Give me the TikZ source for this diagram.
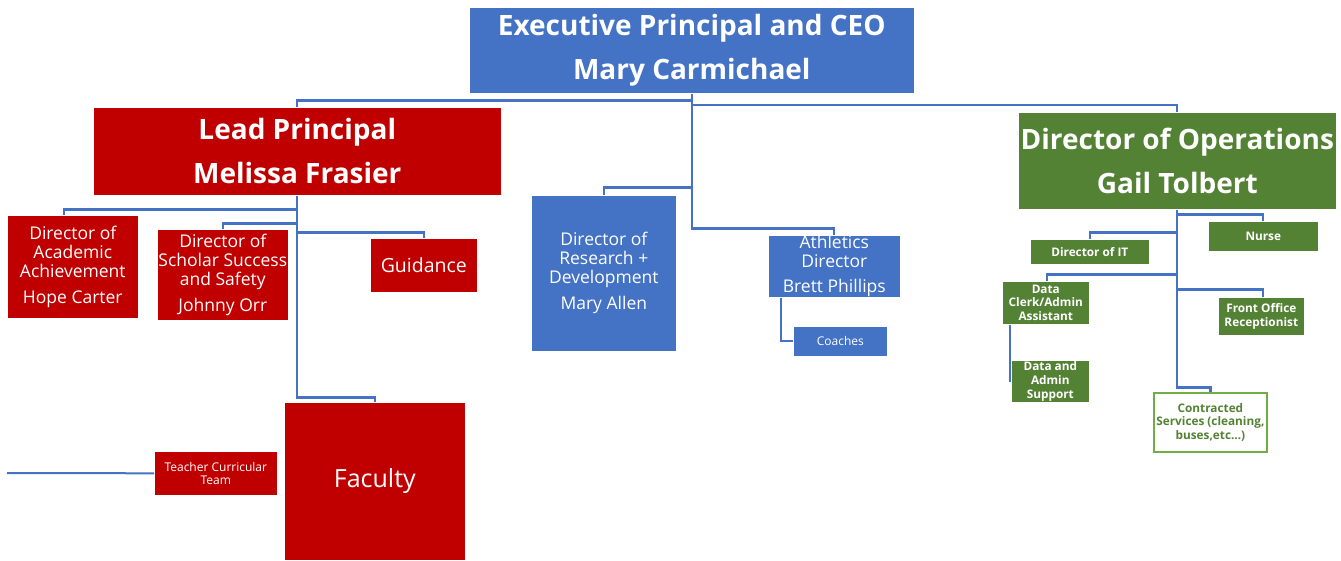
\documentclass[tikz,border=0pt]{standalone}
\usepackage{fontspec}
\setmainfont{Open Sans}
\definecolor{cblue}{HTML}{4472C4}
\definecolor{cred}{HTML}{C00000}
\definecolor{cgreen}{HTML}{548235}
\definecolor{lgreen}{HTML}{70AD47}
\begin{document}
\begin{tikzpicture}[x=1pt,y=-1pt,
  boxbase/.style={inner sep=0pt, anchor=north west, align=center, text=white, draw=white, line width=0.6pt},
  bluebox/.style={boxbase, fill=cblue},
  redbox/.style={boxbase, fill=cred},
  greenbox/.style={boxbase, fill=cgreen},
  bigfont/.style={font=\fontsize{28}{44}\selectfont\bfseries},
  midfont/.style={font=\fontsize{17.5}{19}\selectfont},
  smallfont/.style={font=\fontsize{11.8}{13.8}\selectfont\bfseries},
  conn/.style={draw=cblue, line width=2.3pt}]
\fill[white] (0,0) rectangle (1341,560);
\useasboundingbox (0,0) rectangle (1341,560);
% top level
\node[bluebox, bigfont, minimum width=445, minimum height=86] (ceo) at (469,7) {Executive Principal and CEO\\Mary Carmichael};
\node[redbox, bigfont, minimum width=408, minimum height=88] (lp) at (93,107) {Lead Principal\\Melissa Frasier};
\node[greenbox, bigfont, minimum width=318, minimum height=97] (ops) at (1018,112) {Director of Operations\\Gail Tolbert};
% lead principal branch
\node[redbox, midfont, minimum width=131, minimum height=103] (acad) at (7,215) {Director of\\Academic\\Achievement\\[7pt]Hope Carter};
\node[redbox, midfont, minimum width=131, minimum height=91] (schol) at (157,229) {Director of\\Scholar Success\\and Safety\\[7pt]Johnny Orr};
\node[redbox, font=\fontsize{19.5}{22}\selectfont, minimum width=107, minimum height=54] (guid) at (370,238) {Guidance};
\node[redbox, font=\fontsize{25}{28}\selectfont, minimum width=181, minimum height=158] (fac) at (284,402) {Faculty};
\node[redbox, font=\fontsize{12}{13.5}\selectfont, minimum width=123, minimum height=44] (tct) at (154,451) {Teacher Curricular\\Team};
% ceo middle branch
\node[bluebox, midfont, minimum width=145, minimum height=156] (res) at (531,195) {Director of\\Research +\\Development\\[7pt]Mary Allen};
\node[bluebox, midfont, minimum width=132, minimum height=62] (ath) at (768,235) {Athletics\\Director\\[6pt]Brett Phillips};
\node[bluebox, font=\fontsize{12}{14}\selectfont, minimum width=94, minimum height=30] (coach) at (793,326) {Coaches};
% operations branch
\node[greenbox, smallfont, minimum width=119, minimum height=25] (it) at (1030,239) {Director of IT};
\node[greenbox, smallfont, minimum width=110, minimum height=30] (nurse) at (1208,221) {Nurse};
\node[greenbox, smallfont, minimum width=87, minimum height=43] (dc) at (1002,281) {Data\\Clerk/Admin\\Assistant};
\node[greenbox, smallfont, minimum width=86, minimum height=38] (fo) at (1218,297) {Front Office\\Receptionist};
\node[greenbox, smallfont, minimum width=78, minimum height=42] (das) at (1011,360) {Data and\\Admin\\Support};
\node[boxbase, smallfont, fill=white, draw=lgreen, line width=1.8pt, text=cgreen, minimum width=113, minimum height=59] (cs) at (1153,392) {Contracted\\Services (cleaning,\\buses,etc...)};
% connectors
\draw[conn] (ceo.south) -- ++(0,7) -| (lp.north);
\draw[conn, line width=1.8pt] (ceo.south) ++(0,11) -| (ops.north);
\draw[conn] (ceo.south) ++(0,94) -| (res.north);
\draw[conn] (ceo.south) -- ++(0,135) -| (ath.north);
\draw[conn] ([xshift=13]ath.south west) |- (coach.west);
\draw[conn] (lp.south) ++(0,14) -| ([xshift=-9]acad.north);
\draw[conn] (lp.south) ++(0,28) -| (schol.north);
\draw[conn] (lp.south) ++(0,37) -| (guid.north);
\draw[conn] (lp.south) -- ++(0,202) -| (fac.north);
\coordinate (tl) at (7,473);
\draw[conn, line width=2pt] (tl) -- (tct.west);
\draw[conn] (ops.south) ++(0,5) -| (nurse.north);
\draw[conn] (ops.south) ++(0,23) -| (it.north);
\draw[conn] (ops.south) ++(0,65) -| ([xshift=1]dc.north);
\draw[conn] (ops.south) ++(0,80) -| ([xshift=2]fo.north);
\draw[conn] (ops.south) -- ++(0,178) -| (cs.north);
\draw[conn] ([xshift=8]dc.south west) |- (das.west);
\end{tikzpicture}
\end{document}
